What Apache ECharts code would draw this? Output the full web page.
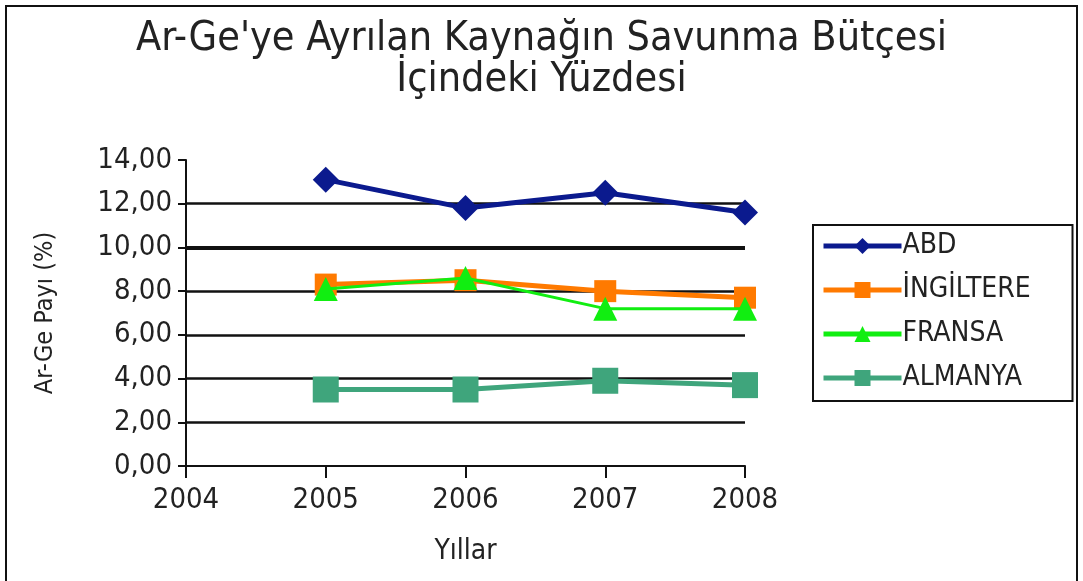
<!DOCTYPE html>
<html>
<head>
<meta charset="utf-8">
<script src="https://cdn.jsdelivr.net/npm/echarts@6/dist/echarts.min.js"></script>
<style>
  html,body{margin:0;padding:0;background:#fff;}
  #frame{position:absolute;left:5px;top:5px;width:1073px;height:600px;border:2px solid #111;box-sizing:border-box;}
  #main{position:absolute;left:0;top:0;width:1083px;height:581px;}
</style>
</head>
<body>
<div id="frame"></div>
<div id="main"></div>
<script>
// yillar
var years = [2005, 2006, 2007, 2008];
var yTicks = [0, 2, 4, 6, 8, 10, 12, 14];

// Ar-Ge payi (%)
var abd = [13.1, 11.8, 12.5, 11.6];
var ingiltere = [8.3, 8.5, 8.0, 7.7];
var fransa = [8.1, 8.6, 7.2, 7.2];
var almanya = [3.5, 3.5, 3.9, 3.7];

var seriesNames = ['ABD', 'İNGİLTERE', 'FRANSA', 'ALMANYA'];

function pairs(vals){
    var out = [];
    for(var i=0;i<years.length;i++){
        out.push([years[i], vals[i]]);
    }
    return out;
}

var font = '"DejaVu Sans Condensed", "Liberation Sans Narrow", "DejaVu Sans", sans-serif';

var chart = echarts.init(document.getElementById('main'));
chart.setOption({
    backgroundColor: 'transparent',
    animation: false,
    title: {
        text: "Ar-Ge'ye Ayrılan Kaynağın Savunma Bütçesi\nİçindeki Yüzdesi",
        left: 'center',
        top: 14,
        textStyle: {
            fontFamily: font,
            fontWeight: 'normal',
            fontSize: 41,
            lineHeight: 41,
            color: '#222'
        }
    },
    legend: {
        orient: 'vertical',
        left: 813,
        top: 225,
        data: seriesNames,
        itemWidth: 78,
        itemHeight: 20,
        itemGap: 14,
        padding: [6, 10, 8, 8],
        borderColor: '#111',
        borderWidth: 2,
        backgroundColor: '#fff',
        lineStyle: {width: 5},
        textStyle: {
            fontFamily: font,
            fontSize: 28,
            lineHeight: 30,
            width: 160,
            color: '#222',
            padding: [0, 0, 0, -4]
        }
    },
    grid: {
        left: 186,
        right: 338,
        top: 160,
        bottom: 115,
        containLabel: false
    },
    xAxis: {
        type: 'value',
        min: 2004,
        max: 2008,
        interval: 1,
        name: 'Yıllar',
        nameLocation: 'middle',
        nameGap: 72,
        nameTextStyle: {fontFamily: font, fontSize: 28, color: '#222'},
        axisLine: {show: true, lineStyle: {color: '#111', width: 2}},
        axisTick: {show: true, length: 12, lineStyle: {color: '#111', width: 2}},
        splitLine: {show: false},
        axisLabel: {
            fontFamily: font,
            fontSize: 29,
            color: '#222',
            margin: 20,
            formatter: function(v){ return String(v); }
        }
    },
    yAxis: {
        type: 'value',
        min: yTicks[0],
        max: yTicks[yTicks.length-1],
        interval: 2,
        name: 'Ar-Ge Payı (%)',
        nameLocation: 'middle',
        nameGap: 128,
        nameRotate: 90,
        nameTextStyle: {fontFamily: font, fontSize: 25, color: '#222'},
        axisLine: {show: true, lineStyle: {color: '#111', width: 2}},
        axisTick: {show: true, length: 8, lineStyle: {color: '#111', width: 2}},
        splitLine: {show: true, showMaxLine: false, showMinLine: false, lineStyle: {color: '#111', width: 2.5}},
        axisLabel: {
            fontFamily: font,
            fontSize: 29,
            color: '#222',
            margin: 14,
            formatter: function(v){ return v.toFixed(2).replace('.', ','); }
        }
    },
    series: [
        {
            name: seriesNames[0],
            type: 'line',
            data: pairs(abd),
            symbol: 'diamond',
            symbolSize: 26,
            itemStyle: {color: '#0b1a8e'},
            lineStyle: {color: '#0b1a8e', width: 5},
            z: 4,
            markLine: {
                silent: true,
                symbol: 'none',
                label: {show: false},
                lineStyle: {color: '#111', width: 4, type: 'solid'},
                data: [{yAxis: 10}]
            }
        },
        {
            name: seriesNames[1],
            type: 'line',
            data: pairs(ingiltere),
            symbol: 'rect',
            symbolSize: 22,
            itemStyle: {color: '#ff7a00'},
            lineStyle: {color: '#ff7a00', width: 5},
            z: 2
        },
        {
            name: seriesNames[2],
            type: 'line',
            data: pairs(fransa),
            symbol: 'triangle',
            symbolSize: 24,
            itemStyle: {color: '#11ee11'},
            lineStyle: {color: '#11ee11', width: 3},
            z: 3
        },
        {
            name: seriesNames[3],
            type: 'line',
            data: pairs(almanya),
            symbol: 'rect',
            symbolSize: 26,
            itemStyle: {color: '#3fa57c'},
            lineStyle: {color: '#3fa57c', width: 5},
            z: 2
        }
    ]
});
</script>
</body>
</html>
